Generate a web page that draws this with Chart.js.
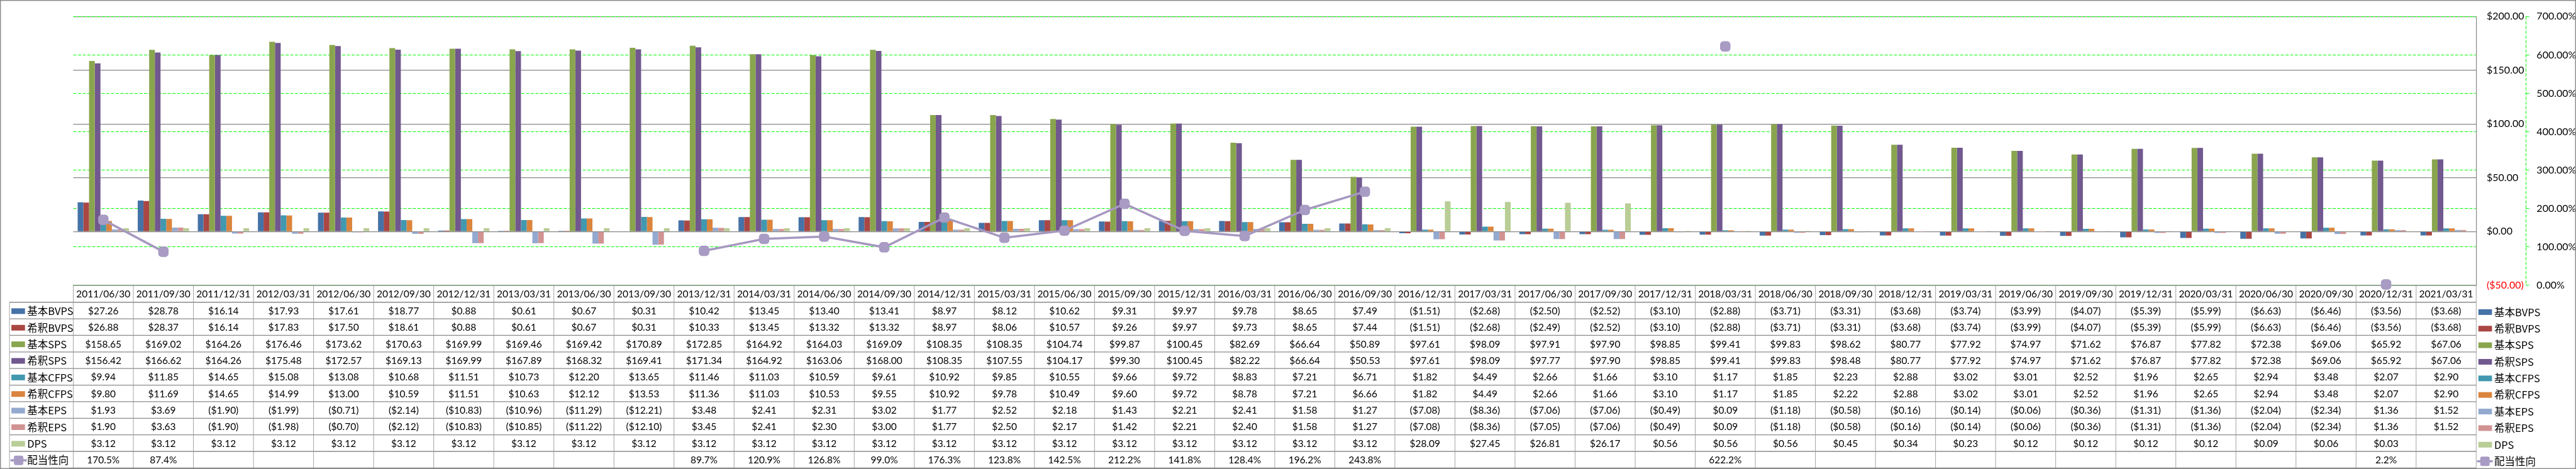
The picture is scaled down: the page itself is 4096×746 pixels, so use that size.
<!DOCTYPE html>
<html>
<head>
<meta charset="utf-8">
<script src="https://cdn.jsdelivr.net/npm/chart.js@4.4.0/dist/chart.umd.min.js"></script>
<style>
  html, body { margin: 0; padding: 0; background: #fff; }
  canvas { display: block; }
</style>
</head>
<body>
<canvas id="chart" width="4096" height="746"></canvas>
<script>
// Quarter end dates
const categories = [
    '2011/06/30', '2011/09/30', '2011/12/31', '2012/03/31', '2012/06/30', '2012/09/30', '2012/12/31', '2013/03/31',
    '2013/06/30', '2013/09/30', '2013/12/31', '2014/03/31', '2014/06/30', '2014/09/30', '2014/12/31', '2015/03/31',
    '2015/06/30', '2015/09/30', '2015/12/31', '2016/03/31', '2016/06/30', '2016/09/30', '2016/12/31', '2017/03/31',
    '2017/06/30', '2017/09/30', '2017/12/31', '2018/03/31', '2018/06/30', '2018/09/30', '2018/12/31', '2019/03/31',
    '2019/06/30', '2019/09/30', '2019/12/31', '2020/03/31', '2020/06/30', '2020/09/30', '2020/12/31', '2021/03/31'
];

// Per share values ($)
const basicBVPS = [27.26, 28.78, 16.14, 17.93, 17.61, 18.77, 0.88, 0.61, 0.67, 0.31, 10.42, 13.45, 13.40, 13.41, 8.97, 8.12, 10.62, 9.31, 9.97, 9.78,
    8.65, 7.49, -1.51, -2.68, -2.50, -2.52, -3.10, -2.88, -3.71, -3.31, -3.68, -3.74, -3.99, -4.07, -5.39, -5.99, -6.63, -6.46, -3.56, -3.68];
const dilutedBVPS = [26.88, 28.37, 16.14, 17.83, 17.50, 18.61, 0.88, 0.61, 0.67, 0.31, 10.33, 13.45, 13.32, 13.32, 8.97, 8.06, 10.57, 9.26, 9.97, 9.73,
    8.65, 7.44, -1.51, -2.68, -2.49, -2.52, -3.10, -2.88, -3.71, -3.31, -3.68, -3.74, -3.99, -4.07, -5.39, -5.99, -6.63, -6.46, -3.56, -3.68];
const basicSPS = [158.65, 169.02, 164.26, 176.46, 173.62, 170.63, 169.99, 169.46, 169.42, 170.89, 172.85, 164.92, 164.03, 169.09, 108.35, 108.35, 104.74, 99.87, 100.45, 82.69,
    66.64, 50.89, 97.61, 98.09, 97.91, 97.90, 98.85, 99.41, 99.83, 98.62, 80.77, 77.92, 74.97, 71.62, 76.87, 77.82, 72.38, 69.06, 65.92, 67.06];
const dilutedSPS = [156.42, 166.62, 164.26, 175.48, 172.57, 169.13, 169.99, 167.89, 168.32, 169.41, 171.34, 164.92, 163.06, 168.00, 108.35, 107.55, 104.17, 99.30, 100.45, 82.22,
    66.64, 50.53, 97.61, 98.09, 97.77, 97.90, 98.85, 99.41, 99.83, 98.48, 80.77, 77.92, 74.97, 71.62, 76.87, 77.82, 72.38, 69.06, 65.92, 67.06];
const basicCFPS = [9.94, 11.85, 14.65, 15.08, 13.08, 10.68, 11.51, 10.73, 12.20, 13.65, 11.46, 11.03, 10.59, 9.61, 10.92, 9.85, 10.55, 9.66, 9.72, 8.83,
    7.21, 6.71, 1.82, 4.49, 2.66, 1.66, 3.10, 1.17, 1.85, 2.23, 2.88, 3.02, 3.01, 2.52, 1.96, 2.65, 2.94, 3.48, 2.07, 2.90];
const dilutedCFPS = [9.80, 11.69, 14.65, 14.99, 13.00, 10.59, 11.51, 10.63, 12.12, 13.53, 11.36, 11.03, 10.53, 9.55, 10.92, 9.78, 10.49, 9.60, 9.72, 8.78,
    7.21, 6.66, 1.82, 4.49, 2.66, 1.66, 3.10, 1.17, 1.85, 2.22, 2.88, 3.02, 3.01, 2.52, 1.96, 2.65, 2.94, 3.48, 2.07, 2.90];
const basicEPS = [1.93, 3.69, -1.90, -1.99, -0.71, -2.14, -10.83, -10.96, -11.29, -12.21, 3.48, 2.41, 2.31, 3.02, 1.77, 2.52, 2.18, 1.43, 2.21, 2.41,
    1.58, 1.27, -7.08, -8.36, -7.06, -7.06, -0.49, 0.09, -1.18, -0.58, -0.16, -0.14, -0.06, -0.36, -1.31, -1.36, -2.04, -2.34, 1.36, 1.52];
const dilutedEPS = [1.90, 3.63, -1.90, -1.98, -0.70, -2.12, -10.83, -10.85, -11.22, -12.10, 3.45, 2.41, 2.30, 3.00, 1.77, 2.50, 2.17, 1.42, 2.21, 2.40,
    1.58, 1.27, -7.08, -8.36, -7.05, -7.06, -0.49, 0.09, -1.18, -0.58, -0.16, -0.14, -0.06, -0.36, -1.31, -1.36, -2.04, -2.34, 1.36, 1.52];
const dps = [3.12, 3.12, 3.12, 3.12, 3.12, 3.12, 3.12, 3.12, 3.12, 3.12, 3.12, 3.12, 3.12, 3.12, 3.12, 3.12, 3.12, 3.12, 3.12, 3.12,
    3.12, 3.12, 28.09, 27.45, 26.81, 26.17, 0.56, 0.56, 0.56, 0.45, 0.34, 0.23, 0.12, 0.12, 0.12, 0.12, 0.09, 0.06, 0.03, null];

// Payout ratio (%)
const payoutRatio = [170.5, 87.4, null, null, null, null, null, null, null, null, 89.7, 120.9, 126.8, 99.0, 176.3, 123.8, 142.5, 212.2, 141.8, 128.4,
    196.2, 243.8, null, null, null, null, null, 622.2, null, null, null, null, null, null, null, null, null, null, 2.2, null];

// Axis ticks
const moneyTicks = [-50, 0, 50, 100, 150, 200];
const percentTicks = [0, 100, 200, 300, 400, 500, 600, 700];

const barNames = ['基本BVPS', '希釈BVPS', '基本SPS', '希釈SPS', '基本CFPS', '希釈CFPS', '基本EPS', '希釈EPS', 'DPS'];
const barValues = [basicBVPS, dilutedBVPS, basicSPS, dilutedSPS, basicCFPS, dilutedCFPS, basicEPS, dilutedEPS, dps];
const barColors = ['#4572A7', '#AA4643', '#89A54E', '#71588F', '#4198AF', '#DB843D', '#93A9CF', '#D19392', '#B9CD96'];
const lineName = '配当性向';
const lineColor = '#A698C0';

// reference picture was 5877 wide, the window is 4096
const S = 0.696;
const FONT = 'Lato, "Noto Sans CJK JP", sans-serif';
const CJK_FONT = '"Noto Sans CJK JP", Lato, sans-serif';
const TEXT_SIZE = 15.5;

const fmtMoney = v => v == null ? '' : (v < 0 ? `($${(-v).toFixed(2)})` : `$${v.toFixed(2)}`);
const fmtPercent = v => v == null ? '' : `${v.toFixed(1)}%`;

// Rows of the data table under the chart
const tableRows = barNames.map((name, i) => ({ name, color: barColors[i], values: barValues[i], fmt: fmtMoney, line: false }));
tableRows.push({ name: lineName, color: lineColor, values: payoutRatio, fmt: fmtPercent, line: true });

function drawKey(ctx, row, x, cy, lineLen) {
    if (row.line) {
        ctx.strokeStyle = row.color;
        ctx.lineWidth = 3.5;
        ctx.beginPath();
        ctx.moveTo(x, cy);
        ctx.lineTo(x + lineLen, cy);
        ctx.stroke();
        const m = 15;
        ctx.fillStyle = '#A99CC4';
        ctx.beginPath();
        ctx.roundRect(x + lineLen / 2 - m / 2, cy - m / 2, m, m, 3);
        ctx.fill();
    } else {
        ctx.fillStyle = row.color;
        ctx.fillRect(x, cy - 4.5, 21.6, 9);
    }
}

const tablePlugin = {
    id: 'dataTable',
    beforeDatasetsDraw(chart) {
        const ctx = chart.ctx;
        const area = chart.chartArea;
        const colW = (area.right - area.left) / categories.length;
        const headTop = area.bottom;
        const headBottom = 690.7 * S;
        const tableBottom = 1069.5 * S;
        const rowH = (tableBottom - headBottom) / tableRows.length;
        const tableLeft = 21.7 * S;

        ctx.save();

        // horizontal lines
        ctx.strokeStyle = '#8a8a8a';
        ctx.lineWidth = 1.3;
        ctx.beginPath();
        ctx.moveTo(area.left, headTop);
        ctx.lineTo(area.right, headTop);
        for (let k = 0; k <= tableRows.length; k++) {
            const y = headBottom + k * rowH;
            ctx.moveTo(tableLeft, y);
            ctx.lineTo(area.right, y);
        }
        ctx.stroke();

        // vertical lines
        ctx.strokeStyle = '#9a9a9a';
        ctx.lineWidth = 0.9;
        ctx.beginPath();
        for (let i = 0; i <= categories.length; i++) {
            const x = area.left + i * colW;
            ctx.moveTo(x, headTop);
            ctx.lineTo(x, tableBottom);
        }
        ctx.moveTo(tableLeft, headBottom);
        ctx.lineTo(tableLeft, tableBottom);
        ctx.stroke();

        // header dates
        ctx.fillStyle = '#000';
        ctx.textAlign = 'center';
        ctx.textBaseline = 'middle';
        ctx.font = `${TEXT_SIZE}px ${FONT}`;
        categories.forEach((c, i) => {
            ctx.fillText(c, area.left + (i + 0.5) * colW, (headTop + headBottom) / 2 + 1);
        });

        // values and row legend
        tableRows.forEach((row, k) => {
            const cy = headBottom + (k + 0.5) * rowH + 1;
            ctx.font = `${TEXT_SIZE}px ${FONT}`;
            ctx.textAlign = 'center';
            ctx.fillStyle = '#000';
            row.values.forEach((v, i) => {
                ctx.fillText(row.fmt(v), area.left + (i + 0.5) * colW, cy);
            });

            drawKey(ctx, row, row.line ? 16.7 : 18.1, cy, 25.8);
            ctx.font = `${TEXT_SIZE + 1}px ${CJK_FONT}`;
            ctx.textAlign = 'left';
            ctx.fillStyle = '#000';
            ctx.fillText(row.name, 43.2, cy);

            // legend on the right
            drawKey(ctx, row, row.line ? 3938.7 : 3940.8, cy + 1.5, 25);
            ctx.font = `${TEXT_SIZE + 1}px ${CJK_FONT}`;
            ctx.fillStyle = '#000';
            ctx.fillText(row.name, 3966, cy + 1.5);
        });

        // dashed axis line for the percent scale
        const y1 = chart.scales.y1;
        ctx.strokeStyle = '#00ff00';
        ctx.lineWidth = 1;
        ctx.setLineDash([5, 2.5]);
        ctx.beginPath();
        ctx.moveTo(y1.left + 0.5, y1.top);
        ctx.lineTo(y1.left + 0.5, y1.bottom);
        ctx.stroke();
        ctx.restore();
    },
    afterDraw(chart) {
        const ctx = chart.ctx;
        ctx.save();
        ctx.strokeStyle = '#8a8a8a';
        ctx.lineWidth = 1.4;
        ctx.strokeRect(0.7, 0.7, chart.width - 1.4, chart.height - 1.4);
        ctx.restore();
    }
};

const datasets = barNames.map((name, i) => ({
    type: 'bar',
    label: name,
    data: barValues[i],
    backgroundColor: barColors[i],
    borderWidth: 0,
    yAxisID: 'y',
    order: 1
}));

datasets.push({
    type: 'line',
    label: lineName,
    data: payoutRatio,
    yAxisID: 'y1',
    borderColor: lineColor,
    borderWidth: 3.5,
    pointStyle: 'rectRounded',
    pointRadius: 9,
    pointBackgroundColor: '#A99CC4',
    pointBorderColor: '#A396BD',
    pointBorderWidth: 1,
    spanGaps: false,
    clip: false,
    order: 0
});

const chartHeight = 746;
const plotTop = 15.7 * S;
const plotBottom = 652 * S;

const myChart = new Chart(document.getElementById('chart'), {
    type: 'bar',
    data: {
        labels: categories,
        datasets: datasets
    },
    options: {
        responsive: false,
        animation: false,
        devicePixelRatio: 1,
        layout: {
            padding: { left: 167.4 * S, top: plotTop, right: 0, bottom: chartHeight - plotBottom }
        },
        datasets: {
            bar: { categoryPercentage: 0.8538, barPercentage: 1 }
        },
        plugins: {
            legend: { display: false },
            tooltip: { enabled: false }
        },
        scales: {
            x: {
                type: 'category',
                display: false,
                offset: true
            },
            y: {
                position: 'right',
                min: moneyTicks[0],
                max: moneyTicks[moneyTicks.length - 1],
                afterFit: scale => { scale.width = (5762 - 5649) * S; },
                afterBuildTicks: scale => { scale.ticks = moneyTicks.map(v => ({ value: v })); },
                ticks: {
                    padding: 16.7,
                    font: { family: FONT, size: TEXT_SIZE + 0.5 },
                    color: ctx => ctx.tick && ctx.tick.value < 0 ? '#ff0000' : '#000000',
                    callback: v => fmtMoney(v)
                },
                grid: {
                    color: '#878787',
                    lineWidth: 1.2,
                    drawTicks: false
                },
                border: { display: true, color: '#878787', width: 1.2 }
            },
            y1: {
                position: 'right',
                min: percentTicks[0],
                max: percentTicks[percentTicks.length - 1],
                afterFit: scale => { scale.width = (5877 - 5762) * S; },
                afterBuildTicks: scale => { scale.ticks = percentTicks.map(v => ({ value: v })); },
                ticks: {
                    padding: 11.8,
                    font: { family: FONT, size: TEXT_SIZE + 0.5 },
                    color: '#000000',
                    callback: v => `${v.toFixed(2)}%`
                },
                grid: {
                    color: '#00ff00',
                    lineWidth: 1,
                    drawTicks: true,
                    tickLength: 5.6,
                    tickColor: '#00ff00',
                    tickWidth: 1
                },
                border: { display: false, dash: [5, 2.5] }
            }
        }
    },
    plugins: [tablePlugin]
});
</script>
</body>
</html>
